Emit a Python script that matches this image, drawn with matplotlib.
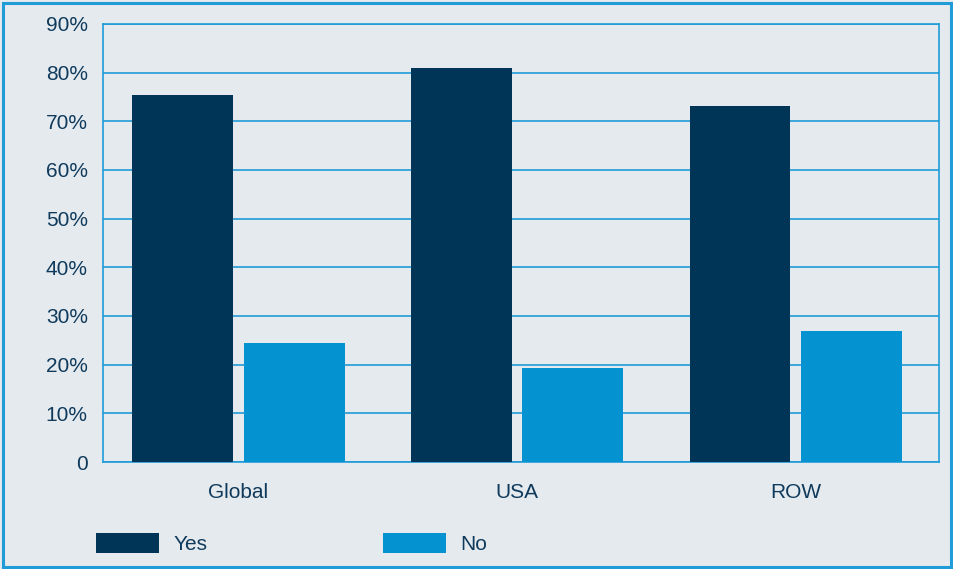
import matplotlib.pyplot as plt
from matplotlib.patches import Rectangle, Patch
import numpy as np

# Survey shares by region
regions = ['Global', 'USA', 'ROW']
yes_pct = [75.3, 81.0, 73.2]
no_pct = [24.5, 19.3, 26.9]
ytick_vals = [0, 10, 20, 30, 40, 50, 60, 70, 80, 90]
ytick_labels = ['0', '10%', '20%', '30%', '40%', '50%', '60%', '70%', '80%', '90%']

navy = '#003558'
blue = '#0492d0'
line_blue = '#1f9bd7'
bg = '#e5eaee'
text_col = '#0f3a5c'

plt.rcParams['font.family'] = ['Liberation Sans', 'DejaVu Sans']

fig = plt.figure(figsize=(9.54, 5.69), dpi=100, facecolor=bg)
ax = fig.add_axes([0.108, 0.188, 0.876, 0.770])
ax.set_facecolor(bg)

x = np.arange(len(regions))
w = 0.362
ax.bar(x - 0.2, yes_pct, width=w, color=navy, zorder=3, label='Yes')
ax.bar(x + 0.2, no_pct, width=w, color=blue, zorder=3, label='No')

ax.set_xlim(-0.486, 2.513)
ax.set_ylim(0, 90)
ax.set_yticks(ytick_vals)
ax.set_yticklabels(ytick_labels)
ax.set_xticks(x)
ax.set_xticklabels(regions)
ax.tick_params(axis='y', length=0, pad=11, labelsize=15, labelcolor=text_col)
ax.tick_params(axis='x', length=0, pad=15, labelsize=15, labelcolor=text_col)
ax.grid(axis='y', color=line_blue, linewidth=1.2, zorder=1)
for s in ax.spines.values():
    s.set_color(line_blue)
    s.set_linewidth(1.2)

# Legend along the bottom
handles = [Patch(facecolor=navy), Patch(facecolor=blue)]
fig.legend(handles, ['Yes', 'No'], loc='lower left', bbox_to_anchor=(0.092, 0.012),
           borderaxespad=0, ncol=2, frameon=False, fontsize=15, labelcolor=text_col,
           handlelength=3.03, handleheight=1.1, handletextpad=0.67, columnspacing=8.45)

# Outer frame
fig.patches.append(Rectangle((0.003, 0.003), 0.994, 0.992, transform=fig.transFigure,
                             fill=False, edgecolor=line_blue, linewidth=2.2))

fig.savefig('out.png', dpi=100, facecolor=bg)
